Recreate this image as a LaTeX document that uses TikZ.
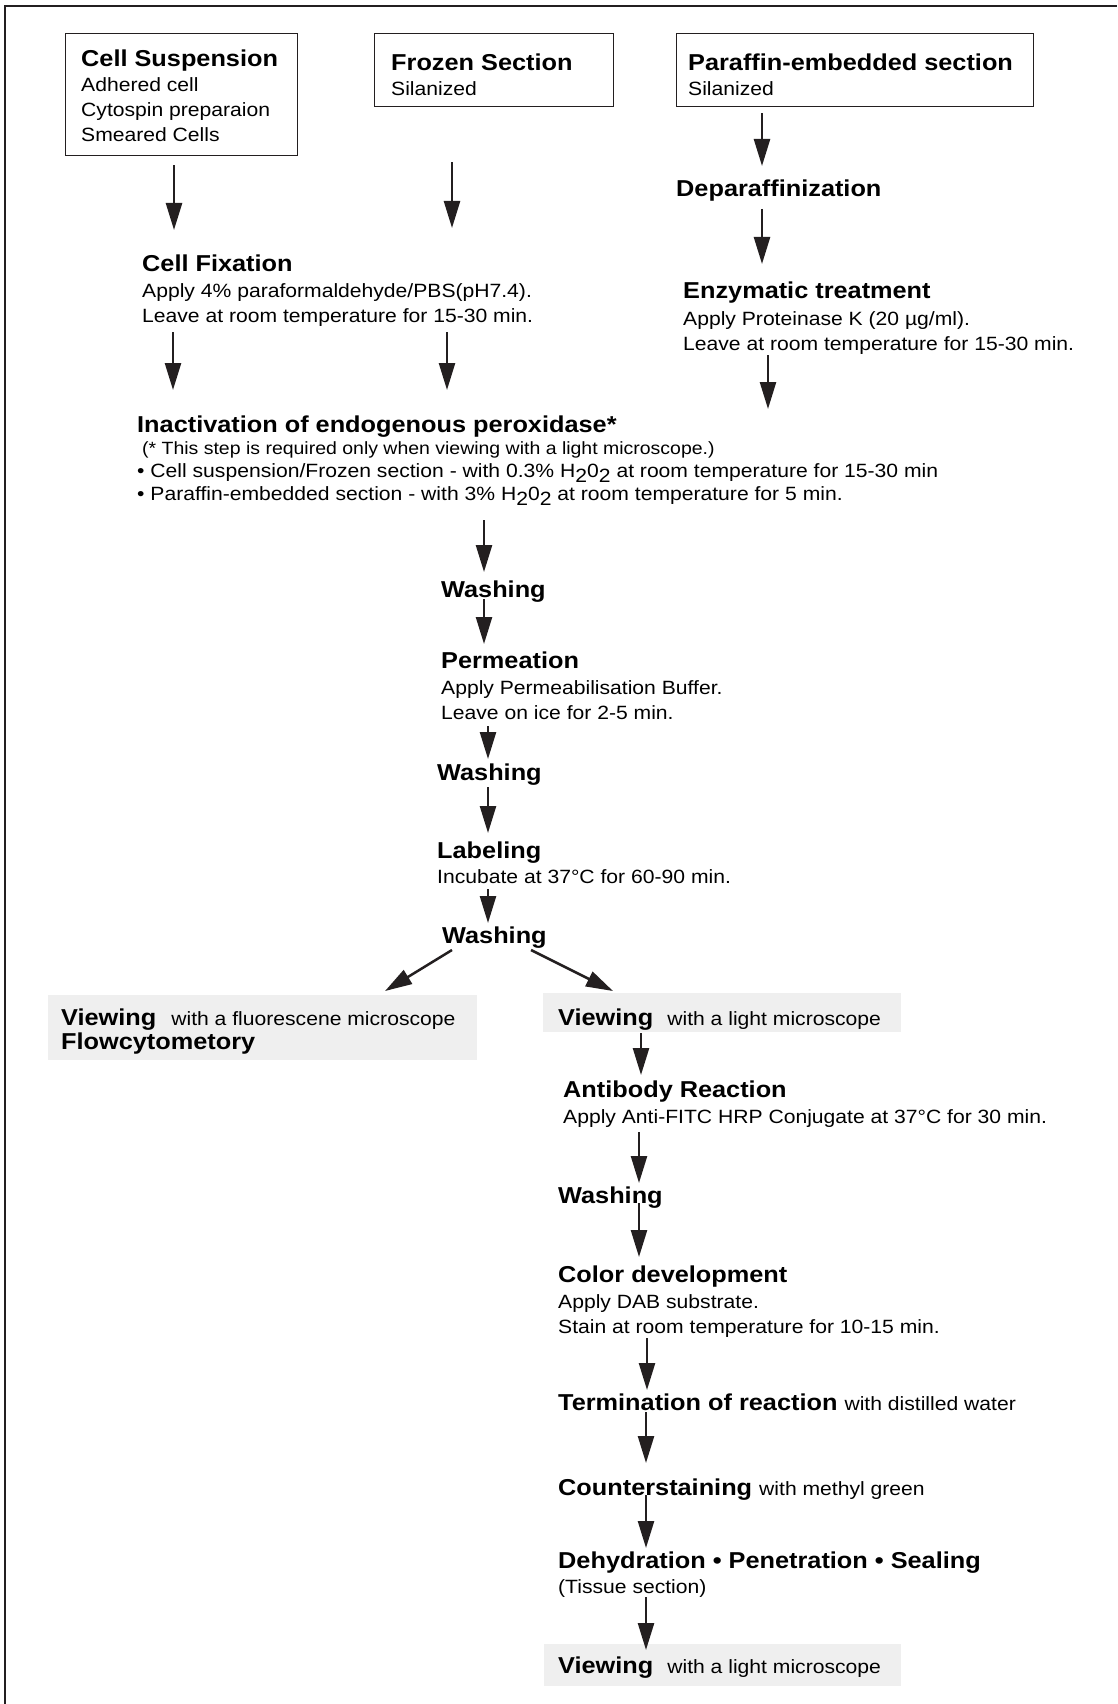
\documentclass[tikz,border=0pt]{standalone}
\usepackage{fontspec}
\setmainfont{Liberation Sans}[FakeStretch=1.1]
\usetikzlibrary{arrows.meta}
\definecolor{inkcol}{RGB}{35,31,32}
\definecolor{viewgrey}{RGB}{239,239,239}
\newcommand{\stepextra}[1]{{\mdseries\fontsize{19.2}{25}\selectfont #1}}
\newcommand{\lowtwo}{\raisebox{-0.5ex}{2}}
\tikzset{
  stepname/.style={anchor=base west,inner sep=0pt,font=\fontsize{23}{28}\selectfont\bfseries},
  stepinfo/.style={anchor=base west,inner sep=0pt,align=left,font=\fontsize{19.2}{25}\selectfont},
  stepnote/.style={anchor=base west,inner sep=0pt,align=left,font=\fontsize{17.7}{23}\selectfont},
  srcbox/.style={draw=inkcol,line width=1.2pt,anchor=north west,inner sep=0pt},
  viewbox/.style={fill=viewgrey,anchor=north west,inner sep=0pt},
  flow/.style={draw=inkcol,line width=2.5pt,-{Triangle[length=27pt,width=16pt]}},
}
\begin{document}
\begin{tikzpicture}[x=1pt,y=-1pt]
    \useasboundingbox (0,0) rectangle (1117,1704);
    %% Frame
    \draw[inkcol,line width=1.6pt] (5,1704) -- (5,6) -- (1117,6);
    %% Samples (multi-line texts sit on the baseline of their last line)
    \node[srcbox,minimum width=232pt,minimum height=122pt] (csbox) at (65,33) {};
    \node[srcbox,minimum width=239pt,minimum height=73pt] (fzbox) at (374,33) {};
    \node[srcbox,minimum width=357pt,minimum height=73pt] (pfbox) at (676,33) {};
    \node[stepname] (cs) at (81,67) {Cell Suspension};
    \node[stepinfo] (csinfo) at (81,142) {Adhered cell\\Cytospin preparaion\\Smeared Cells};
    \node[stepname] (fz) at (391,71) {Frozen Section};
    \node[stepinfo] (fzinfo) at (391,96) {Silanized};
    \node[stepname] (pf) at (688,71) {Paraffin-embedded section};
    \node[stepinfo] (pfinfo) at (688,96) {Silanized};
    %% Pretreatment
    \node[stepname] (dp) at (676,197) {Deparaffinization};
    \node[stepname] (en) at (683,298) {Enzymatic treatment};
    \node[stepinfo] (eninfo) at (683,350) {Apply Proteinase K (20 µg/ml).\\Leave at room temperature for 15-30 min.};
    \node[stepname] (fix) at (142,272) {Cell Fixation};
    \node[stepinfo] (fixinfo) at (142,322) {Apply 4\% paraformaldehyde/PBS(pH7.4).\\Leave at room temperature for 15-30 min.};
    \node[stepname] (inact) at (137,432) {Inactivation of endogenous peroxidase*};
    \node[stepnote] (inactnote) at (142,454) {(* This step is required only when viewing with a light microscope.)};
    \node[stepinfo,font=\fontsize{19.2}{23}\selectfont] (inactinfo) at (137,500) {%
      • Cell suspension/Frozen section - with 0.3\% H\lowtwo0\lowtwo\ at room temperature for 15-30 min\\
      • Paraffin-embedded section - with 3\% H\lowtwo0\lowtwo\ at room temperature for 5 min.};
    %% Labeling
    \node[stepname] (wash1) at (441,597) {Washing};
    \node[stepname] (perm) at (441,668) {Permeation};
    \node[stepinfo] (perminfo) at (441,719) {Apply Permeabilisation Buffer.\\Leave on ice for 2-5 min.};
    \node[stepname] (wash2) at (437,780) {Washing};
    \node[stepname] (lab) at (437,858) {Labeling};
    \node[stepinfo] (labinfo) at (437,883) {Incubate at 37°C for 60-90 min.};
    \node[stepname] (wash3) at (442,943) {Washing};
    %% Viewing
    \node[viewbox,minimum width=429pt,minimum height=65pt] (flbox) at (48,995) {};
    \node[viewbox,minimum width=358pt,minimum height=39pt] (lmbox) at (543,993) {};
    \node[stepname] (fl) at (61,1025) {Viewing\hspace{15pt}\stepextra{with a fluorescene microscope}};
    \node[stepname] (fc) at (61,1049) {Flowcytometory};
    \node[stepname] (lm) at (558,1025) {Viewing\hspace{14pt}\stepextra{with a light microscope}};
    %% Light microscope
    \node[stepname] (ab) at (563,1097) {Antibody Reaction};
    \node[stepinfo] (abinfo) at (563,1123) {Apply Anti-FITC HRP Conjugate at 37°C for 30 min.};
    \node[stepname] (wash4) at (558,1203) {Washing};
    \node[stepname] (col) at (558,1282) {Color development};
    \node[stepinfo] (colinfo) at (558,1333) {Apply DAB substrate.\\Stain at room temperature for 10-15 min.};
    \node[stepname] (term) at (558,1410) {Termination of reaction \stepextra{with distilled water}};
    \node[stepname] (cnt) at (558,1495) {Counterstaining \stepextra{with methyl green}};
    \node[stepname] (dh) at (558,1568) {Dehydration • Penetration • Sealing};
    \node[stepinfo] (dhinfo) at (558,1593) {(Tissue section)};
    \node[viewbox,minimum width=357pt,minimum height=42pt] (lmbox2) at (544,1644) {};
    \node[stepname] (lm2) at (558,1673) {Viewing\hspace{14pt}\stepextra{with a light microscope}};
    %% Arrows
    \draw[flow,shorten <=9pt,shorten >=42pt] (174,0 |- csbox.south) -- (174,0 |- fix.base);
    \draw[flow,shorten <=55pt,shorten >=44pt] (452,0 |- fzbox.south) -- (452,0 |- fix.base);
    \draw[flow,shorten <=6pt,shorten >=31pt] (762,0 |- pfbox.south) -- (762,0 |- dp.base);
    \draw[flow,shorten <=12pt,shorten >=34pt] (762,0 |- dp.base) -- (762,0 |- en.base);
    \draw[flow,shorten <=1pt,shorten >=23pt] (768,0 |- eninfo.south) -- (768,0 |- inact.base);
    \draw[flow,shorten <=6pt,shorten >=42pt] (173,0 |- fixinfo.south) -- (173,0 |- inact.base);
    \draw[flow,shorten <=6pt,shorten >=42pt] (447,0 |- fixinfo.south) -- (447,0 |- inact.base);
    \draw[flow,shorten <=15pt,shorten >=25pt] (484,0 |- inactinfo.south) -- (484,0 |- wash1.base);
    \draw[flow,shorten <=2pt,shorten >=24pt] (484,0 |- wash1.base) -- (484,0 |- perm.base);
    \draw[flow,shorten <=7pt,shorten >=21pt] (488,0 |- perminfo.south) -- (488,0 |- wash2.base);
    \draw[flow,shorten <=7pt,shorten >=25pt] (488,0 |- wash2.base) -- (488,0 |- lab.base);
    \draw[flow,shorten <=6pt,shorten >=20pt] (488,0 |- labinfo.south) -- (488,0 |- wash3.base);
    \draw[flow] ([shift={(10,7)}]wash3.base west) -- ([shift={(337,-4)}]flbox.north west);
    \draw[flow] ([shift={(89,7)}]wash3.base west) -- ([shift={(70,-2)}]lmbox.north west);
    \draw[flow,shorten <=1pt,shorten >=22pt] (641,0 |- lmbox.south) -- (641,0 |- ab.base);
    \draw[flow,shorten <=5pt,shorten >=20pt] (639,0 |- abinfo.south) -- (639,0 |- wash4.base);
    \draw[flow,shorten >=25pt] (639,0 |- wash4.base) -- (639,0 |- col.base);
    \draw[flow,shorten <=1pt,shorten >=20pt] (647,0 |- colinfo.south) -- (647,0 |- term.base);
    \draw[flow,shorten <=2pt,shorten >=32pt] (646,0 |- term.base) -- (646,0 |- cnt.base);
    \draw[flow,shorten >=20pt] (646,0 |- cnt.base) -- (646,0 |- dh.base);
    \draw[flow,shorten >=23pt] (646,0 |- dhinfo.south) -- (646,0 |- lm2.base);
\end{tikzpicture}
\end{document}
